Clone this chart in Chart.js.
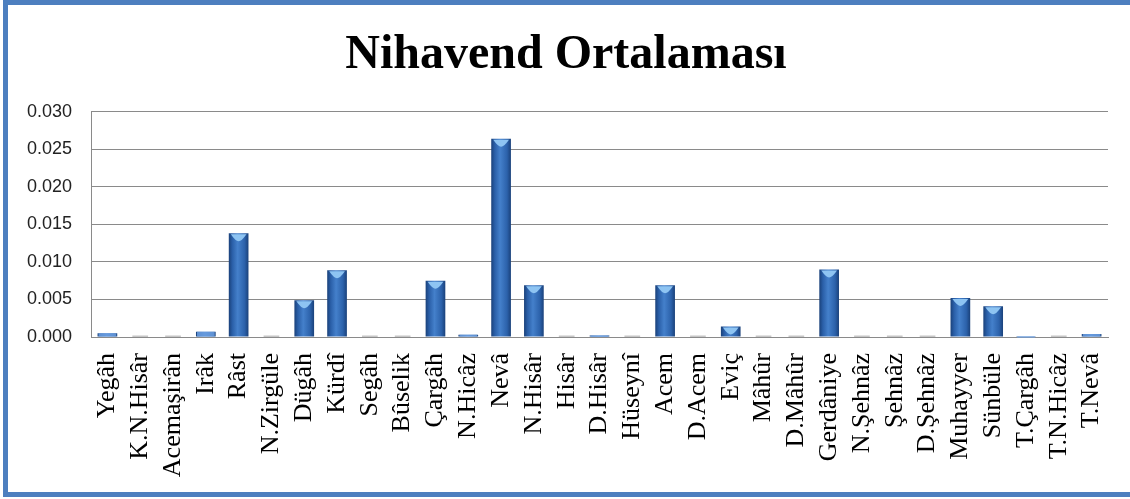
<!DOCTYPE html>
<html>
<head>
<meta charset="utf-8">
<script src="https://cdn.jsdelivr.net/npm/chart.js@4/dist/chart.umd.min.js"></script>
<style>
  html, body { margin: 0; padding: 0; background: #fff; overflow: hidden; }
  #frame {
    position: absolute; left: 3px; top: 0; width: 1200px; height: 497px;
    box-sizing: border-box; border: 5px solid #4d7fbf; border-right: none;
  }
  #wrap { position: absolute; left: 0; top: 0; width: 1130px; height: 499px; }
</style>
</head>
<body>
<div id="frame"></div>
<div id="wrap"><canvas id="canvas"></canvas></div>
<script>
// makam names along the x axis
var makamlar = ['Yegâh','K.N.Hisâr','Acemaşirân','Irâk','Râst','N.Zirgüle','Dügâh','Kürdî',
    'Segâh','Bûselik','Çargâh','N.Hicâz','Nevâ','N.Hisâr','Hisâr','D.Hisâr','Hüseynî',
    'Acem','D.Acem','Eviç','Mâhûr','D.Mâhûr','Gerdâniye','N.Şehnâz','Şehnâz','D.Şehnâz',
    'Muhayyer','Sünbüle','T.Çargâh','T.N.Hicâz','T.Nevâ'];

// ortalama values
var ortalama = [0.0005, 0, 0, 0.0007, 0.0138, 0, 0.0049, 0.0089,
    0, 0, 0.0075, 0.0003, 0.0264, 0.0069, 0, 0.0002, 0,
    0.0069, 0, 0.0014, 0, 0, 0.0090, 0, 0, 0,
    0.0052, 0.0041, 0.0001, 0, 0.0004];

var yTicks = [0, 0.005, 0.010, 0.015, 0.020, 0.025, 0.030];

var BAR_PCT = 0.6;

function barFill(context) {
    var chart = context.chart;
    var xs = chart.scales.x;
    if (!xs || !chart.chartArea) return '#3a70b8';
    var cx = xs.getPixelForValue(context.dataIndex);
    var w = xs.width / makamlar.length * BAR_PCT;
    var g = chart.ctx.createLinearGradient(cx - w / 2, 0, cx + w / 2, 0);
    g.addColorStop(0, '#1a417a');
    g.addColorStop(0.18, '#2a5fa8');
    g.addColorStop(0.45, '#4480cb');
    g.addColorStop(0.8, '#2c62ab');
    g.addColorStop(1, '#1a417a');
    return g;
}

// light chevron on top of every bar, like the 3D bevel in the original
var bevel = {
    id: 'bevel',
    afterDatasetsDraw: function(chart) {
        var c = chart.ctx;
        var meta = chart.getDatasetMeta(0);
        c.save();
        meta.data.forEach(function(bar, i) {
            var p = bar.getProps(['x', 'y', 'base', 'width'], true);
            var h = p.base - p.y;
            var l = p.x - p.width / 2, r = p.x + p.width / 2;
            if (!ortalama[i]) {
                // flat slab for the empty bars
                c.fillStyle = 'rgba(160,160,160,0.6)';
                c.fillRect(l + 2, p.base - 1.5, p.width - 4, 1.5);
                return;
            }
            if (h < 8) {
                c.fillStyle = 'rgba(110,160,225,0.8)';
                c.fillRect(l + 1, p.y, p.width - 2, Math.max(h, 1.5));
                return;
            }
            c.fillStyle = '#8ec4f2';
            c.beginPath();
            c.moveTo(l + 2, p.y + 1);
            c.lineTo(r - 2, p.y + 1);
            c.quadraticCurveTo(p.x + 3, p.y + 8, p.x, p.y + 8);
            c.quadraticCurveTo(p.x - 3, p.y + 8, l + 2, p.y + 1);
            c.fill();
        });
        c.restore();
    }
};

window.onload = function() {
    var ctx = document.getElementById('canvas').getContext('2d');
    window.myBar = new Chart(ctx, {
        type: 'bar',
        data: {
            labels: makamlar,
            datasets: [{
                label: 'Nihavend Ortalaması',
                data: ortalama,
                backgroundColor: barFill,
                borderWidth: 0,
                barPercentage: 1,
                categoryPercentage: BAR_PCT
            }]
        },
        options: {
            responsive: true,
            maintainAspectRatio: false,
            animation: false,
            layout: { padding: { left: 24, right: 22, top: 0, bottom: 0 } },
            plugins: {
                legend: { display: false },
                tooltip: { enabled: false },
                title: {
                    display: true,
                    text: 'Nihavend Ortalaması',
                    color: '#000',
                    font: { family: '"Liberation Serif", "Times New Roman", serif', size: 48, weight: 'bold', lineHeight: 1.2 },
                    padding: { top: 27, bottom: 27 }
                }
            },
            scales: {
                x: {
                    grid: { display: false, drawTicks: false },
                    border: { display: true, color: '#8a8a8a', width: 1 },
                    ticks: {
                        autoSkip: false,
                        minRotation: 90,
                        maxRotation: 90,
                        padding: 16,
                        color: '#000',
                        font: { family: '"Liberation Serif", "Times New Roman", serif', size: 26, lineHeight: 1.1 }
                    },
                    afterFit: function(s) {
                        s.height = 162;
                        s.paddingLeft = 0;
                        s.paddingRight = 0;
                    }
                },
                y: {
                    min: 0,
                    max: 0.03,
                    afterBuildTicks: function(s) {
                        s.ticks = yTicks.map(function(v) { return { value: v }; });
                    },
                    grid: { color: '#8a8a8a', drawTicks: false },
                    border: { display: true, color: '#8a8a8a', width: 1 },
                    ticks: {
                        padding: 19,
                        color: '#222',
                        font: { family: '"Liberation Sans", Arial, sans-serif', size: 18 },
                        callback: function(v) { return v.toFixed(3); }
                    },
                    afterFit: function(s) { s.width = 67; }
                }
            }
        },
        plugins: [bevel]
    });
};
</script>
</body>
</html>
